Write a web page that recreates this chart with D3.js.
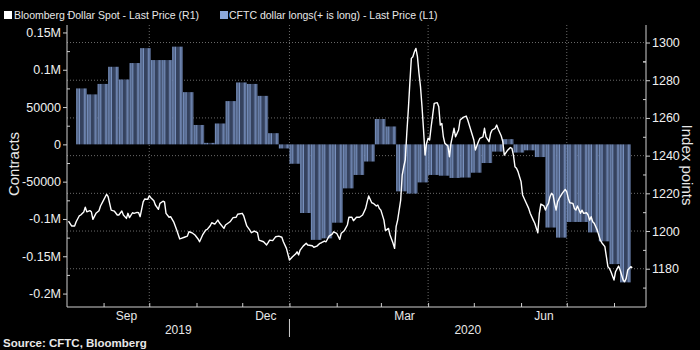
<!DOCTYPE html>
<html>
<head>
<meta charset="utf-8">
<script src="https://cdn.jsdelivr.net/npm/d3@7"></script>
<style>
body { margin: 0; background: #000; }
svg { display: block; background: #000; }
text { font-family: "Liberation Sans", Arial, sans-serif; fill: #e8e8e8; }
.axis path, .axis line { stroke: #cfcfcf; }
.grid line { stroke: #6a6a6a; stroke-dasharray: 1,2; }
</style>
</head>
<body>
<script>
// CFTC dollar longs, one value per week (contracts)
const weekDates = ["2019-08-14","2019-08-21","2019-08-28","2019-09-04","2019-09-11","2019-09-18","2019-09-25",
  "2019-10-02","2019-10-09","2019-10-16","2019-10-23","2019-10-30","2019-11-06","2019-11-13","2019-11-20","2019-11-27",
  "2019-12-04","2019-12-11","2019-12-18","2019-12-25","2020-01-01","2020-01-08","2020-01-15","2020-01-22","2020-01-29",
  "2020-02-05","2020-02-12","2020-02-19","2020-02-26","2020-03-04","2020-03-11","2020-03-18","2020-03-25",
  "2020-04-01","2020-04-08","2020-04-15","2020-04-22","2020-04-29","2020-05-06","2020-05-13","2020-05-20","2020-05-27",
  "2020-06-03","2020-06-10","2020-06-17","2020-06-24","2020-07-01","2020-07-08","2020-07-15","2020-07-22","2020-07-29",
  "2020-08-05"];
const weekLongs = [75000, 67000, 81000, 104000, 87000, 109000, 129000,
  113000, 113000, 131000, 70000, 26000, 2000, 28000, 58000, 83000,
  81000, 65000, 15000, -5500, -26000, -92000, -128000, -126000, -105000,
  -59000, -41000, -23000, 34000, 24000, -63000, -66000, -51000,
  -41000, -42000, -45000, -44500, -38000, -25000, -9700, 7000, -11000,
  -8000, -17000, -111500, -125000, -104000, -104000, -118000, -130000, -160500,
  -185000];

// Bloomberg Dollar Spot index
const spotDates = ["2019-08-09","2019-08-11","2019-08-13","2019-08-14","2019-08-16","2019-08-17","2019-08-19","2019-08-20",
  "2019-08-21","2019-08-23","2019-08-24","2019-08-25","2019-08-27","2019-08-29","2019-08-30","2019-09-01","2019-09-03",
  "2019-09-04","2019-09-06","2019-09-08","2019-09-10","2019-09-11","2019-09-13","2019-09-14","2019-09-16","2019-09-17",
  "2019-09-18","2019-09-20","2019-09-21","2019-09-23","2019-09-24","2019-09-25","2019-09-27","2019-09-28","2019-09-30",
  "2019-10-01","2019-10-02","2019-10-04","2019-10-05","2019-10-07","2019-10-08","2019-10-10","2019-10-11","2019-10-12",
  "2019-10-14","2019-10-15","2019-10-17","2019-10-19","2019-10-21","2019-10-22","2019-10-24","2019-10-26","2019-10-27",
  "2019-10-29","2019-10-31","2019-11-02","2019-11-03","2019-11-05","2019-11-07","2019-11-08","2019-11-10","2019-11-11",
  "2019-11-13","2019-11-15","2019-11-16","2019-11-19","2019-11-20","2019-11-23","2019-11-25","2019-11-27","2019-11-28",
  "2019-12-01","2019-12-02","2019-12-04","2019-12-06","2019-12-07","2019-12-09","2019-12-11","2019-12-12","2019-12-15",
  "2019-12-17","2019-12-18","2019-12-19","2019-12-21","2019-12-23","2019-12-25","2019-12-27","2019-12-28","2019-12-30",
  "2020-01-01","2020-01-03","2020-01-05","2020-01-06","2020-01-07","2020-01-08","2020-01-10","2020-01-12","2020-01-13",
  "2020-01-16","2020-01-17","2020-01-19","2020-01-21","2020-01-22","2020-01-24","2020-01-25","2020-01-27","2020-01-29",
  "2020-01-30","2020-02-01","2020-02-03","2020-02-04","2020-02-06","2020-02-08","2020-02-09","2020-02-11","2020-02-12",
  "2020-02-14","2020-02-16","2020-02-18","2020-02-20","2020-02-21","2020-02-22","2020-02-24","2020-02-25","2020-02-27",
  "2020-02-28","2020-02-29","2020-03-01","2020-03-03","2020-03-04","2020-03-06","2020-03-07","2020-03-09","2020-03-10",
  "2020-03-11","2020-03-12","2020-03-14","2020-03-15","2020-03-16","2020-03-17","2020-03-18","2020-03-19","2020-03-20",
  "2020-03-21","2020-03-22","2020-03-23","2020-03-24","2020-03-25","2020-03-26","2020-03-27","2020-03-28","2020-03-29",
  "2020-03-30","2020-03-31","2020-04-01","2020-04-02","2020-04-03","2020-04-04","2020-04-05","2020-04-07","2020-04-08",
  "2020-04-09","2020-04-10","2020-04-11","2020-04-12","2020-04-14","2020-04-15","2020-04-16","2020-04-18","2020-04-19",
  "2020-04-21","2020-04-22","2020-04-24","2020-04-26","2020-04-27","2020-04-29","2020-05-01","2020-05-02","2020-05-04",
  "2020-05-05","2020-05-07","2020-05-08","2020-05-09","2020-05-11","2020-05-12","2020-05-13","2020-05-15","2020-05-16",
  "2020-05-17","2020-05-19","2020-05-20","2020-05-21","2020-05-23","2020-05-25","2020-05-26","2020-05-27","2020-05-28",
  "2020-05-29","2020-05-30","2020-05-31","2020-06-01","2020-06-02","2020-06-04","2020-06-06","2020-06-07","2020-06-09",
  "2020-06-10","2020-06-12","2020-06-13","2020-06-14","2020-06-16","2020-06-17","2020-06-18","2020-06-19","2020-06-20",
  "2020-06-21","2020-06-22","2020-06-23","2020-06-24","2020-06-25","2020-06-26","2020-06-28","2020-06-30","2020-07-01",
  "2020-07-02","2020-07-03","2020-07-05","2020-07-06","2020-07-07","2020-07-08","2020-07-10","2020-07-11","2020-07-12",
  "2020-07-14","2020-07-15","2020-07-16","2020-07-17","2020-07-18","2020-07-19","2020-07-21","2020-07-23","2020-07-24",
  "2020-07-26","2020-07-27","2020-07-28","2020-07-29","2020-07-30","2020-08-01","2020-08-02","2020-08-04","2020-08-05",
  "2020-08-07","2020-08-08","2020-08-09","2020-08-10","2020-08-12","2020-08-13"];
const spotValues = [1205.3,1202.7,1202.7,1204.9,1208.0,1208.5,1210.1,1212.6,
  1210.2,1210.8,1210.2,1206.2,1209.4,1210.8,1213.3,1216.4,1219.5,
  1218.2,1211.1,1210.6,1208.5,1208.5,1210.6,1208.5,1206.7,1209.4,
  1207.1,1209.7,1209.4,1209.9,1209.7,1207.6,1215.5,1217.0,1216.8,
  1218.7,1217.7,1216.1,1213.8,1211.5,1214.7,1215.8,1215.5,1209.4,
  1207.3,1207.6,1204.9,1200.5,1195.8,1196.1,1196.7,1197.3,1199.6,
  1199.1,1197.9,1195.8,1194.3,1197.9,1200.5,1200.9,1202.8,1204.4,
  1203.7,1205.8,1204.4,1201.4,1203.2,1204.9,1207.1,1207.3,1208.9,
  1209.4,1208.0,1202.7,1200.5,1199.1,1200.0,1199.1,1195.2,1194.3,
  1192.6,1193.8,1195.2,1194.9,1197.0,1197.3,1196.7,1194.3,1190.8,
  1184.6,1186.4,1187.8,1189.0,1187.3,1189.9,1192.0,1193.5,1192.6,
  1192.2,1191.4,1192.0,1193.5,1193.8,1194.7,1194.3,1197.3,1198.4,
  1199.6,1198.8,1195.6,1198.8,1200.2,1203.2,1207.3,1207.3,1205.5,
  1207.3,1207.3,1208.5,1212.0,1215.5,1218.6,1215.0,1214.7,1213.3,
  1213.8,1212.0,1211.1,1205.8,1200.2,1201.4,1197.9,1193.5,1190.8,
  1202.3,1205.8,1216.4,1229.7,1234.1,1237.7,1251.8,1264.2,1278.4,
  1291.6,1292.5,1295.1,1296.9,1292.5,1283.7,1276.6,1265.9,1253.6,
  1240.3,1246.5,1249.2,1248.3,1255.3,1261.5,1267.7,1268.1,1265.9,
  1256.2,1257.1,1250.0,1246.5,1245.1,1239.4,1246.5,1254.5,1250.0,
  1253.6,1258.9,1260.3,1261.0,1258.9,1253.6,1248.3,1243.0,1247.4,
  1249.2,1250.0,1254.5,1250.0,1247.4,1251.8,1253.6,1254.5,1256.2,
  1254.0,1250.4,1247.4,1240.3,1242.7,1244.3,1243.9,1240.3,1234.1,
  1233.3,1231.5,1228.8,1226.2,1219.1,1215.5,1212.0,1209.4,1205.8,
  1204.1,1199.1,1209.4,1214.3,1213.3,1211.1,1213.3,1214.7,1218.2,
  1220.0,1219.1,1214.7,1211.1,1215.5,1217.3,1220.0,1222.1,1220.8,
  1217.3,1215.0,1214.7,1212.0,1211.1,1213.3,1209.4,1211.1,1209.4,
  1209.7,1208.5,1205.8,1207.6,1204.9,1204.1,1200.5,1195.2,1193.8,
  1191.7,1186.4,1181.1,1180.2,1178.4,1174.0,1178.4,1181.4,1179.3,
  1174.0,1173.1,1174.9,1179.3,1181.1,1180.5];

const leftTicks = [150000, 100000, 50000, 0, -50000, -100000, -150000, -200000];
const rightTicks = [1180, 1200, 1220, 1240, 1260, 1280, 1300];
const monthLabels = ["Sep", "Dec", "Mar", "Jun"];
const yearLabels = ["2019", "2020"];

const W = 700, H = 350;
const mLeft = 67, mRight = 646, mTop = 25, mBottom = 307;
const parse = d3.utcParse("%Y-%m-%d");

const svg = d3.select("body").append("svg")
    .attr("width", W)
    .attr("height", H);

const x = d3.scaleUtc()
    .domain([parse("2019-08-08"), parse("2020-08-22")])
    .range([mLeft, mRight]);
const yL = d3.scaleLinear().domain([-218000, 160000]).range([mBottom, mTop]);
const yR = d3.scaleLinear().domain([1159.7, 1309.3]).range([mBottom, mTop]);

// striped fill: one light line per business day, dark between
const day = x(parse("2019-08-15")) - x(parse("2019-08-14"));
const pat = svg.append("defs").append("pattern")
    .attr("id", "stripes")
    .attr("patternUnits", "userSpaceOnUse")
    .attr("x", x(parse(weekDates[0])))
    .attr("width", day * 7)
    .attr("height", H);
pat.append("rect").attr("width", day * 7).attr("height", H).attr("fill", "#35425e");
pat.selectAll("rect.s")
    .data([0, 1, 2, 5, 6])
    .join("rect")
    .attr("class", "s")
    .attr("x", d => d * day)
    .attr("width", day * 0.5)
    .attr("height", H)
    .attr("fill", "#8ba7da");

// grid
const grid = svg.append("g").attr("class", "grid");
grid.selectAll("line.h")
    .data(rightTicks)
    .join("line")
    .attr("class", "h")
    .attr("x1", mLeft).attr("x2", mRight)
    .attr("y1", d => yR(d)).attr("y2", d => yR(d));
const quarters = d3.utcMonth.every(3).range(parse("2019-10-01"), parse("2020-08-01"));
grid.selectAll("line.v")
    .data(quarters)
    .join("line")
    .attr("class", "v")
    .attr("x1", d => x(d)).attr("x2", d => x(d))
    .attr("y1", mTop).attr("y2", mBottom);

// bars
svg.append("g")
    .selectAll("rect")
    .data(weekDates.map((d, i) => ({ date: parse(d), v: weekLongs[i] })))
    .join("rect")
    .attr("x", d => x(d.date))
    .attr("width", d => x(d3.utcDay.offset(d.date, 7)) - x(d.date))
    .attr("y", d => yL(Math.max(0, d.v)))
    .attr("height", d => Math.abs(yL(d.v) - yL(0)))
    .attr("fill", "url(#stripes)");

// line
const line = d3.line()
    .x(d => x(d[0]))
    .y(d => yR(d[1]));
svg.append("path")
    .datum(spotDates.map((d, i) => [parse(d), spotValues[i]]))
    .attr("d", line)
    .attr("fill", "none")
    .attr("stroke", "#fff")
    .attr("stroke-width", 1.4)
    .attr("stroke-linejoin", "round");

// axes
const fmt = v => Math.abs(v) >= 100000 ? (v / 1e6) + "M" : String(v);
const axL = svg.append("g").attr("class", "axis")
    .attr("transform", `translate(${mLeft},0)`)
    .call(d3.axisLeft(yL).tickValues(leftTicks).tickFormat(fmt).tickSize(4).tickPadding(2).tickSizeOuter(0));
svg.append("g").attr("class", "axis")
    .attr("transform", `translate(${mLeft},0)`)
    .call(d3.axisRight(yL).tickValues(leftTicks.map(d => d + 25000)).tickFormat("").tickSize(3).tickSizeOuter(0))
    .select(".domain").remove();

const axR = svg.append("g").attr("class", "axis")
    .attr("transform", `translate(${mRight},0)`)
    .call(d3.axisRight(yR).tickValues(rightTicks).tickFormat(d3.format("d")).tickSize(4).tickPadding(2).tickSizeOuter(0));
svg.append("g").attr("class", "axis")
    .attr("transform", `translate(${mRight},0)`)
    .call(d3.axisLeft(yR).tickValues(rightTicks.map(d => d - 10).concat([1290])).tickFormat("").tickSize(3).tickSizeOuter(0))
    .select(".domain").remove();

[axL, axR].forEach(a => a.selectAll("text")
    .style("font-size", "12.5px")
    .style("fill", "#f0f0f0"));

// left and right domain lines span the full plot height
axL.select(".domain").attr("d", `M0,${mTop}V${mBottom}`);
axR.select(".domain").attr("d", `M0,${mTop}V${mBottom}`);

const months = d3.utcMonth.range(parse("2019-09-01"), parse("2020-09-01"));
svg.append("g").attr("class", "axis")
    .attr("transform", `translate(0,${mBottom})`)
    .call(d3.axisTop(x).tickValues(months).tickFormat("").tickSize(4).tickSizeOuter(0))
    .select(".domain").attr("d", `M${mLeft},0H${mRight}`);

// month labels centred in their month
const labelMonths = [parse("2019-09-01"), parse("2019-12-01"), parse("2020-03-01"), parse("2020-06-01")];
svg.append("g")
    .selectAll("text")
    .data(labelMonths)
    .join("text")
    .attr("x", d => (x(d) + x(d3.utcMonth.offset(d, 1))) / 2)
    .attr("y", 320)
    .attr("text-anchor", "middle")
    .style("font-size", "12px")
    .text((d, i) => monthLabels[i]);

const yearBreak = x(parse("2020-01-01"));
svg.append("g")
    .selectAll("text")
    .data(yearLabels)
    .join("text")
    .attr("x", (d, i) => i === 0 ? (mLeft + yearBreak) / 2 : (yearBreak + mRight) / 2)
    .attr("y", 334)
    .attr("text-anchor", "middle")
    .style("font-size", "12px")
    .text(d => d);
svg.append("line")
    .attr("x1", yearBreak).attr("x2", yearBreak)
    .attr("y1", 319).attr("y2", 337)
    .attr("stroke", "#cfcfcf");

// axis titles
svg.append("text")
    .attr("transform", "translate(19,164) rotate(-90)")
    .attr("text-anchor", "middle")
    .style("font-size", "15px")
    .text("Contracts");
svg.append("text")
    .attr("transform", "translate(682,165) rotate(90)")
    .attr("text-anchor", "middle")
    .style("font-size", "15px")
    .text("Index points");

// legend
const legend = svg.append("g");
legend.append("rect").attr("x", 4).attr("y", 11).attr("width", 8).attr("height", 8).attr("fill", "#fff");
legend.append("text").attr("x", 14).attr("y", 19).style("font-size", "10.5px")
    .text("Bloomberg Dollar Spot - Last Price (R1)");
legend.append("rect").attr("x", 220).attr("y", 11).attr("width", 8).attr("height", 8).attr("fill", "#8ba7da");
legend.append("text").attr("x", 229).attr("y", 19).style("font-size", "10.5px")
    .text("CFTC dollar longs(+ is long) - Last Price (L1)");

// source
svg.append("text")
    .attr("x", 3)
    .attr("y", 347)
    .style("font-size", "11.5px")
    .style("font-weight", "bold")
    .text("Source: CFTC, Bloomberg");
</script>
</body>
</html>
